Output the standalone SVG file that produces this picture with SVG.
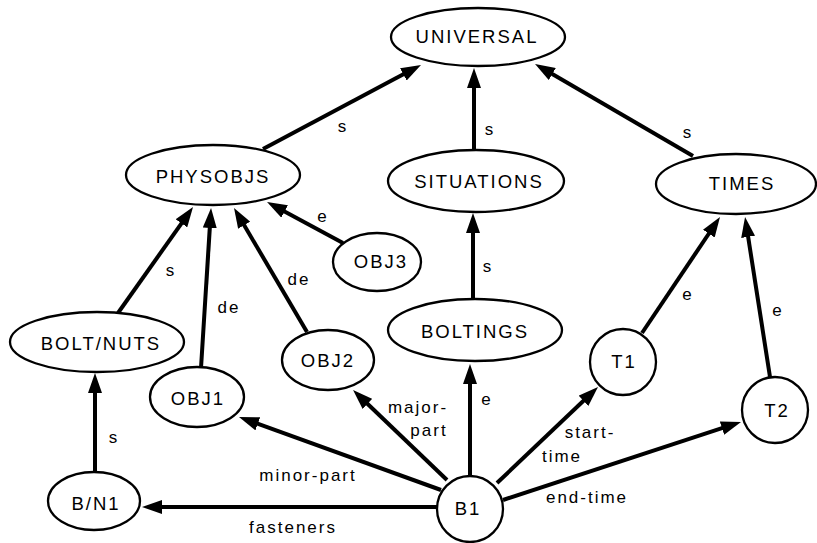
<svg xmlns="http://www.w3.org/2000/svg" width="817" height="543" viewBox="0 0 817 543">
<style>
.node{fill:#fff;stroke:#000;stroke-width:2.3}
.nt{font-family:"Liberation Sans",Arial,sans-serif;font-size:18.5px;letter-spacing:2px;text-anchor:middle;fill:#000}
.edge{stroke:#000;stroke-width:4;fill:none;marker-end:url(#ah)}
.el{font-family:"Liberation Sans",Arial,sans-serif;font-size:17px;letter-spacing:2px;text-anchor:middle;fill:#000}
</style>
<defs>
<marker id="ah" markerUnits="userSpaceOnUse" markerWidth="20" markerHeight="14" refX="8" refY="7" orient="auto">
<path d="M0,0 L20,7 L0,14 z" fill="#000"/>
</marker>
</defs>
<rect width="817" height="543" fill="#fff"/>
<g id="connectors">
<line class="edge" x1="263" y1="149" x2="410.4" y2="70.6"/>
<line class="edge" x1="474" y1="150" x2="474" y2="80"/>
<line class="edge" x1="693" y1="156" x2="545.4" y2="70"/>
<line class="edge" x1="343" y1="243" x2="277.6" y2="207.7"/>
<line class="edge" x1="118" y1="313" x2="186.1" y2="216.8"/>
<line class="edge" x1="201" y1="368" x2="210.3" y2="220"/>
<line class="edge" x1="307" y1="332" x2="240.1" y2="218.3"/>
<line class="edge" x1="473" y1="299" x2="473" y2="225"/>
<line class="edge" x1="642" y1="333" x2="713.3" y2="227"/>
<line class="edge" x1="770" y1="377" x2="746.9" y2="228.9"/>
<line class="edge" x1="95" y1="472" x2="95" y2="385"/>
<line class="edge" x1="441" y1="490" x2="250.3" y2="421.1"/>
<line class="edge" x1="447" y1="480" x2="361.7" y2="398.3"/>
<line class="edge" x1="470" y1="477" x2="470" y2="376"/>
<line class="edge" x1="497" y1="483" x2="589.3" y2="395.3"/>
<line class="edge" x1="503" y1="500" x2="729.6" y2="425.7"/>
<line class="edge" x1="437" y1="507" x2="154" y2="507"/>
<text class="el" x="343" y="132">s</text>
<text class="el" x="490" y="135">s</text>
<text class="el" x="688" y="138">s</text>
<text class="el" x="323" y="222">e</text>
<text class="el" x="171" y="276">s</text>
<text class="el" x="229" y="313">de</text>
<text class="el" x="299" y="285">de</text>
<text class="el" x="488" y="272">s</text>
<text class="el" x="688" y="300">e</text>
<text class="el" x="778" y="316">e</text>
<text class="el" x="114" y="443">s</text>
<text class="el" x="308" y="481">minor-part</text>
<text class="el" x="293" y="533">fasteners</text>
<text class="el" x="418" y="413">major-</text>
<text class="el" x="429" y="436">part</text>
<text class="el" x="487" y="405">e</text>
<text class="el" x="590" y="438">start-</text>
<text class="el" x="562" y="462">time</text>
<text class="el" x="587" y="503">end-time</text>
</g>
<g id="UNIVERSAL"><ellipse class="node" cx="478" cy="37" rx="87" ry="29"/><text class="nt" x="477" y="43">UNIVERSAL</text></g>
<g id="PHYSOBJS"><ellipse class="node" cx="213" cy="175" rx="87" ry="30"/><text class="nt" x="213" y="183">PHYSOBJS</text></g>
<g id="SITUATIONS"><ellipse class="node" cx="476" cy="181" rx="88" ry="31"/><text class="nt" x="479" y="188">SITUATIONS</text></g>
<g id="TIMES"><ellipse class="node" cx="736" cy="184" rx="80" ry="30"/><text class="nt" x="742" y="190">TIMES</text></g>
<g id="OBJ3"><ellipse class="node" cx="377" cy="262" rx="44" ry="29"/><text class="nt" x="381" y="268">OBJ3</text></g>
<g id="BOLT_NUTS"><ellipse class="node" cx="97" cy="342" rx="87" ry="30"/><text class="nt" x="101" y="350">BOLT/NUTS</text></g>
<g id="BOLTINGS"><ellipse class="node" cx="475" cy="330" rx="87" ry="31"/><text class="nt" x="475" y="338">BOLTINGS</text></g>
<g id="OBJ1"><ellipse class="node" cx="197" cy="397" rx="47" ry="30"/><text class="nt" x="198" y="405">OBJ1</text></g>
<g id="OBJ2"><ellipse class="node" cx="328" cy="360" rx="46" ry="30"/><text class="nt" x="328" y="367">OBJ2</text></g>
<g id="T1"><circle class="node" cx="623" cy="362" r="33"/><text class="nt" x="624" y="368">T1</text></g>
<g id="T2"><circle class="node" cx="775" cy="410" r="33"/><text class="nt" x="777" y="417">T2</text></g>
<g id="B1"><circle class="node" cx="470" cy="509" r="33"/><text class="nt" x="468" y="515">B1</text></g>
<g id="B_N1"><ellipse class="node" cx="94" cy="501" rx="46" ry="29"/><text class="nt" x="96" y="510">B/N1</text></g>
</svg>
